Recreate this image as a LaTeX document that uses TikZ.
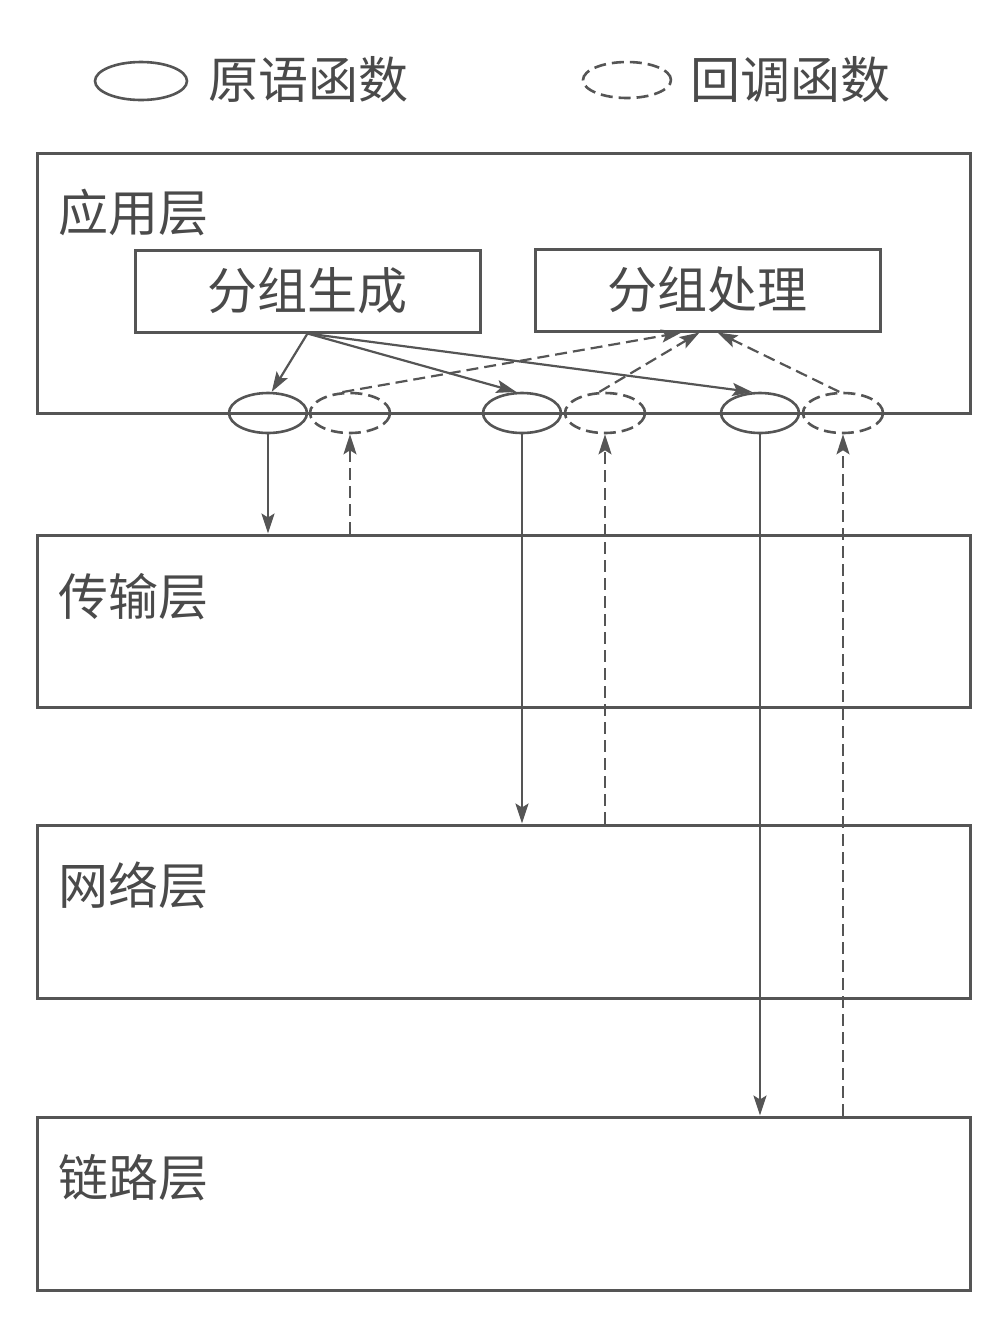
\documentclass[tikz,border=0pt]{standalone}
\usepackage{fontspec}
\newfontfamily\cjk{Noto Sans CJK SC}
\usetikzlibrary{arrows.meta,shapes.geometric}
\definecolor{ink}{HTML}{555555}
\definecolor{txt}{HTML}{4A4A4A}
\tikzset{
  layer/.style={draw=ink, line width=1.5pt, minimum width=466.5pt, inner sep=0pt},
  inbox/.style={draw=ink, line width=1.5pt, minimum width=172.5pt, minimum height=41pt, inner sep=0pt, font=\cjk\fontsize{25}{25}\selectfont, text=txt},
  lbl/.style={anchor=west, inner sep=0pt, font=\cjk\fontsize{25}{25}\selectfont, text=txt},
  prim/.style={ellipse, draw=ink, line width=1.3pt, minimum width=39pt, minimum height=20pt, inner sep=0pt},
  cb/.style={ellipse, draw=ink, line width=1.3pt, dash pattern=on 6pt off 3pt, minimum width=40pt, minimum height=20pt, inner sep=0pt},
  sarr/.style={draw=ink, line width=1.1pt, -{Stealth[length=10pt,width=6.5pt,inset=2pt]}},
  darr/.style={draw=ink, line width=1.1pt, dash pattern=on 6pt off 3pt, -{Stealth[length=10pt,width=6.5pt,inset=2pt]}}
}
\begin{document}
\begin{tikzpicture}[x=0.5pt,y=-0.5pt]
\useasboundingbox (0,0) rectangle (1000,1319);
% legend
\node[prim, minimum width=46pt, minimum height=19pt] (lg1) at (141,81) {};
\node[lbl] (lt1) at (208,80) {原语函数};
\node[cb, minimum width=44pt, minimum height=18pt] (lg2) at (627,80) {};
\node[lbl] (lt2) at (690,80) {回调函数};
% layers
\node[layer, minimum height=130pt] (app) at (503.5,283) {};
\node[layer, minimum height=86pt] (trans) at (503.5,621) {};
\node[layer, minimum height=86.5pt] (net) at (503.5,911.5) {};
\node[layer, minimum height=86.5pt] (link) at (503.5,1203.5) {};
\node[lbl] (appl) at (58,213) {应用层};
\node[lbl] (transl) at (58,597) {传输层};
\node[lbl] (netl) at (58,885) {网络层};
\node[lbl] (linkl) at (58,1178) {链路层};
% inner boxes
\node[inbox] (gen) at (307.5,291) {分组生成};
\node[inbox] (proc) at (707.5,290) {分组处理};
% ellipses
\node[prim] (p1) at (268,413) {};
\node[prim] (p2) at (522,413) {};
\node[prim] (p3) at (760,413) {};
\node[cb] (c1) at (350,413) {};
\node[cb] (c2) at (605,413) {};
\node[cb] (c3) at (843,413) {};
% arrows from gen
\draw[sarr] (gen.south) -- (p1.80);
\draw[sarr] (gen.south) -- (p2.105);
\draw[sarr] (gen.south) -- (p3.110);
% dashed to proc
\draw[darr] (c1.110) -- ([xshift=-13pt]proc.south);
\draw[darr] (c2.105) -- ([xshift=-4pt]proc.south);
\draw[darr] (c3.100) -- ([xshift=5pt]proc.south);
% verticals
\draw[sarr] (p1.south) -- (p1.south |- trans.north);
\draw[darr] (c1.south |- trans.north) -- (c1.south);
\draw[sarr] (p2.south) -- (p2.south |- net.north);
\draw[darr] (c2.south |- net.north) -- (c2.south);
\draw[sarr] (p3.south) -- (p3.south |- link.north);
\draw[darr] (c3.south |- link.north) -- (c3.south);
\end{tikzpicture}
\end{document}
